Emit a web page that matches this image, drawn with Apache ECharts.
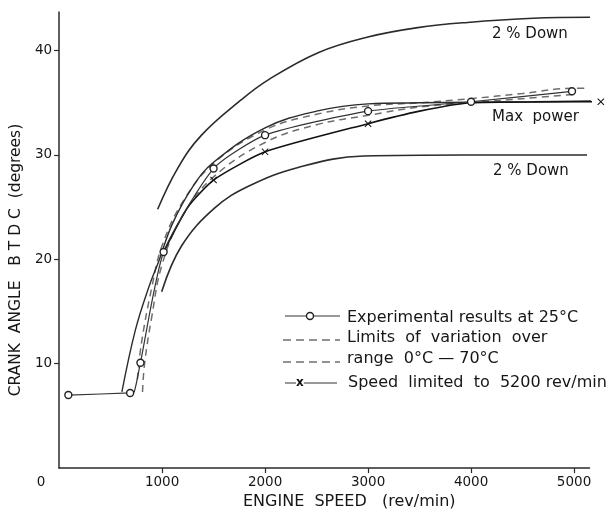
<!DOCTYPE html>
<html>
<head>
<meta charset="utf-8">
<script src="https://cdn.jsdelivr.net/npm/echarts@6/dist/echarts.min.js"></script>
<style>html,body{margin:0;padding:0;background:#fff}#c{width:616px;height:515px}</style>
</head>
<body>
<div id="c"></div>
<script>
// ---- data (engine speed rev/min, crank angle degrees) ----
var xLabels = [0, 1000, 2000, 3000, 4000, 5000];
var xTickMarks = [1000, 2000, 3000, 4000, 5000];
var yTicks = [10, 20, 30, 40];
var upper2Down = [[957,24.8],[1150,28.7],[1383,31.9],[1770,35.3],[2031,37.2],[2515,39.8],[2998,41.3],[3482,42.2],[3965,42.7],[4603,43.1],[5155,43.2]];
var lower2Down = [[996,16.9],[1190,21.3],[1509,24.9],[1838,27.0],[2321,28.8],[2959,29.9],[3926,30.0],[5126,30.0]];
var maxPower = [[610,7.3],[740,13.2],[870,17.3],[967,19.8],[1100,23.4],[1300,27.0],[1500,29.3],[2000,32.6],[2500,34.2],[3000,34.9],[3500,35.0],[4000,35.05],[4600,35.1],[5260,35.2]];
var experimental = [[90,7.0],[690,7.2],[730,7.3],[790,10.1],[1015,20.7],[1500,28.7],[2000,31.9],[3000,34.2],[4000,35.1],[4980,36.1]];
var expMarked = [true,true,false,true,true,true,true,true,true,true];
var limitUpper = [[760,8.5],[800,12.0],[900,17.3],[1000,21.3],[1200,25.5],[1500,29.2],[2000,32.4],[2500,33.9],[3000,34.7],[3500,35.0],[4000,35.4],[4500,35.9],[5000,36.4],[5130,36.4]];
var limitLower = [[810,7.3],[830,10.0],[900,14.5],[1000,19.5],[1200,24.2],[1500,27.9],[2000,31.2],[2500,32.9],[3000,33.8],[3500,34.6],[4000,35.0],[4500,35.4],[5000,35.8]];
var speedLimited = [[1015,20.7],[1250,25.0],[1500,27.6],[2000,30.3],[3000,33.0],[3500,34.2],[4000,35.0],[5260,35.1]];
var speedMarked = [false,false,true,true,true,false,false,true];

var ink = '#2b2b2b';
var grey = '#6e6e6e';
var textCol = '#161616';
var font = 'DejaVu Sans';
var xSym = 'path://M0,1L1,0L5,4L9,0L10,1L6,5L10,9L9,10L5,6L1,10L0,9L4,5Z';

function marked(arr, flags) {
  return arr.map(function (p, i) {
    return flags[i] ? { value: p } : { value: p, symbol: 'none' };
  });
}

var chart = echarts.init(document.getElementById('c'), null, { renderer: 'canvas' });
var lineBase = { type: 'line', smooth: 0.4, silent: true, animation: false, clip: false };

function txt(x, y, s, size) {
  return { type: 'text', x: x, y: y, style: { text: s, font: size + 'px ' + font, fill: textCol, verticalAlign: 'middle' } };
}

chart.setOption({
  backgroundColor: '#fff',
  animation: false,
  grid: { left: 57, right: 26.5, top: 12, bottom: 46, containLabel: false },
  xAxis: {
    type: 'value', min: 0, max: 5150,
    name: 'ENGINE  SPEED   (rev/min)', nameLocation: 'middle', nameGap: 22,
    nameTextStyle: { fontFamily: font, fontSize: 16, color: textCol, padding: [0, 0, 0, 50] },
    axisLine: { show: true, lineStyle: { color: ink, width: 1.5 } },
    axisTick: { show: true, length: 5, customValues: xTickMarks, lineStyle: { color: ink, width: 1.2 } },
    axisLabel: {
      customValues: xLabels, margin: 7, fontFamily: font, fontSize: 13.5, color: textCol,
      formatter: function (v) { return v === 0 ? '{z|0}' : String(v); },
      rich: { z: { fontFamily: font, fontSize: 13.5, color: textCol, padding: [0, 36, 0, 0] } }
    },
    splitLine: { show: false }
  },
  yAxis: {
    type: 'value', min: 0, max: 43.7,
    name: 'CRANK  ANGLE   B T D C  (degrees)', nameLocation: 'middle', nameGap: 32,
    nameTextStyle: { fontFamily: font, fontSize: 15.5, color: textCol, padding: [0, 40, 0, 0] },
    axisLine: { show: true, lineStyle: { color: ink, width: 1.5 } },
    axisTick: { show: true, length: 5, customValues: yTicks, lineStyle: { color: ink, width: 1.2 } },
    axisLabel: { customValues: yTicks, margin: 7, fontFamily: font, fontSize: 13.5, color: textCol },
    splitLine: { show: false }
  },
  series: [
    Object.assign({}, lineBase, { name: '2% Down upper', data: upper2Down, symbol: 'none', lineStyle: { color: ink, width: 1.6 } }),
    Object.assign({}, lineBase, { name: '2% Down lower', data: lower2Down, symbol: 'none', lineStyle: { color: ink, width: 1.6 } }),
    Object.assign({}, lineBase, { name: 'Limits upper', data: limitUpper, symbol: 'none', lineStyle: { color: grey, width: 1.5, type: [7, 5] } }),
    Object.assign({}, lineBase, { name: 'Limits lower', data: limitLower, symbol: 'none', lineStyle: { color: grey, width: 1.5, type: [7, 5] } }),
    Object.assign({}, lineBase, { name: 'Max power', data: maxPower, symbol: 'none', lineStyle: { color: ink, width: 1.4 } }),
    Object.assign({}, lineBase, { name: 'Speed limited', data: marked(speedLimited, speedMarked), symbol: xSym, symbolSize: [7, 7],
      smooth: 0.2, itemStyle: { color: '#111' }, lineStyle: { color: '#111', width: 1.6 } }),
    Object.assign({}, lineBase, { name: 'Experimental', data: marked(experimental, expMarked), symbol: 'circle', symbolSize: 7,
      smooth: 0.2, itemStyle: { color: '#fff', borderColor: '#222', borderWidth: 1.4 }, lineStyle: { color: '#333', width: 1.2 }, z: 5 })
  ],
  graphic: [
    txt(492, 34, '2 % Down', 15),
    txt(492, 117, 'Max  power', 15),
    txt(493, 171, '2 % Down', 15),
    // legend
    { type: 'line', shape: { x1: 285, y1: 316, x2: 340, y2: 316 }, style: { stroke: '#333', lineWidth: 1.2 } },
    { type: 'circle', shape: { cx: 310, cy: 316, r: 3.5 }, style: { fill: '#fff', stroke: '#222', lineWidth: 1.4 } },
    txt(347, 318, 'Experimental results at 25°C', 16),
    { type: 'line', shape: { x1: 283, y1: 340, x2: 340, y2: 340 }, style: { stroke: grey, lineWidth: 1.5, lineDash: [8, 5] } },
    txt(347, 338, 'Limits  of  variation  over', 16),
    { type: 'line', shape: { x1: 283, y1: 362, x2: 340, y2: 362 }, style: { stroke: grey, lineWidth: 1.5, lineDash: [8, 5] } },
    txt(347, 359, 'range  0°C — 70°C', 16),
    { type: 'line', shape: { x1: 285, y1: 383, x2: 337, y2: 383 }, style: { stroke: '#333', lineWidth: 1.2 } },
    { type: 'text', x: 296, y: 383, style: { text: 'x', font: 'bold 12px ' + font, fill: '#111', backgroundColor: '#fff', verticalAlign: 'middle' } },
    txt(348, 383, 'Speed  limited  to  5200 rev/min', 16)
  ]
});
</script>
</body>
</html>
